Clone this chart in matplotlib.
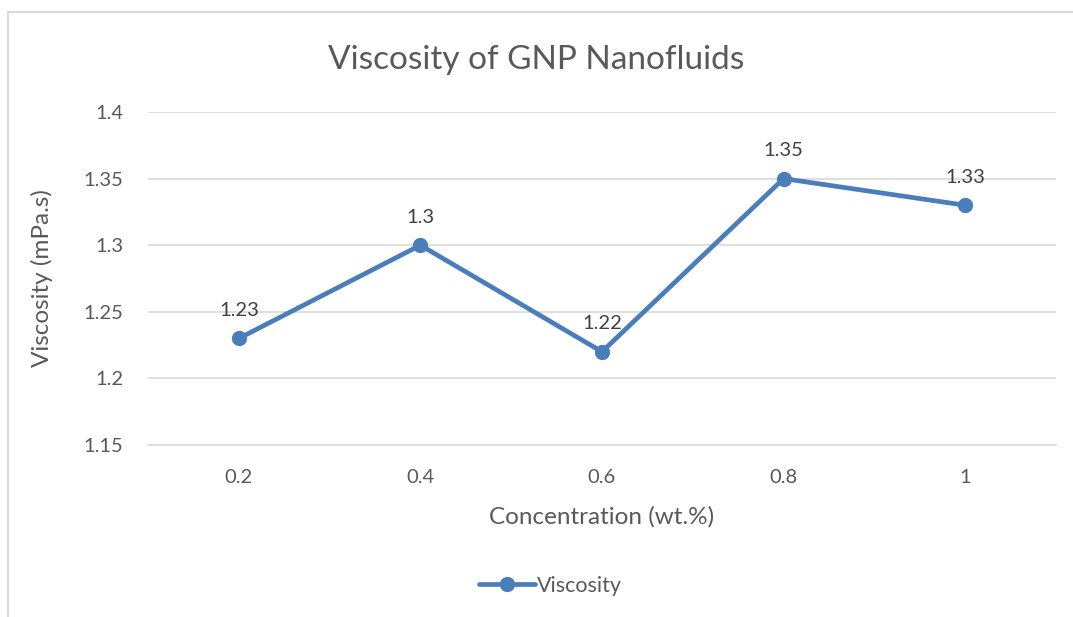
import matplotlib
matplotlib.use('Agg')
import matplotlib.pyplot as plt
from matplotlib.patches import Rectangle

# data
concentrations = ['0.2', '0.4', '0.6', '0.8', '1']
viscosity = [1.23, 1.30, 1.22, 1.35, 1.33]
value_labels = ['1.23', '1.3', '1.22', '1.35', '1.33']

plt.rcParams['font.family'] = ['Lato', 'DejaVu Sans']
txt = '#595959'
blue = '#4a7ebb'

fig = plt.figure(figsize=(10.73, 6.17), dpi=100)
# chart border (only left/top visible in the original crop)
fig.patches.append(Rectangle((8 / 1073, -0.1), 1.2, 1 - 12 / 617 + 0.1,
                             transform=fig.transFigure, fill=False,
                             edgecolor='#d9d9d9', linewidth=1.5))

ax = fig.add_axes([148 / 1073, 1 - 445 / 617, 908 / 1073, 333 / 617])
x = list(range(len(concentrations)))
ax.plot(x, viscosity, color=blue, linewidth=3.4, marker='o', markersize=10,
        label='Viscosity', solid_capstyle='round')
for xi, v, s in zip(x, viscosity, value_labels):
    ax.annotate(s, (xi, v), xytext=(0, 14), textcoords='offset points',
                ha='center', va='bottom', fontsize=14.5, color='#404040')

ax.set_xlim(-0.5, len(concentrations) - 0.5)
ax.set_ylim(1.15, 1.4)
ax.set_yticks([1.15, 1.2, 1.25, 1.3, 1.35, 1.4])
ax.set_yticklabels(['1.15', '1.2', '1.25', '1.3', '1.35', '1.4'])
ax.set_xticks(x)
ax.set_xticklabels(concentrations)
ax.tick_params(length=0, labelsize=14.5, labelcolor=txt, pad=17)
ax.tick_params(axis='y', pad=18)
ax.grid(axis='y', color='#d9d9d9', linewidth=1.2)
ax.set_axisbelow(True)
for sp in ['top', 'right', 'left']:
    ax.spines[sp].set_visible(False)
ax.spines['bottom'].set_color('#d9d9d9')
ax.spines['bottom'].set_linewidth(1.2)

ax.set_xlabel('Concentration (wt.%)', fontsize=17.5, color=txt, labelpad=15)
ax.set_ylabel('Viscosity (mPa.s)', fontsize=17.5, color=txt, labelpad=22)
fig.text(0.5, 1 - 60 / 617, 'Viscosity of GNP Nanofluids', ha='center',
         va='center', fontsize=24, color=txt)

fig.legend(loc='center', bbox_to_anchor=(0.5 + 14 / 1073, 1 - 586 / 617),
           frameon=False, fontsize=15.5, labelcolor=txt, handlelength=2.6,
           handletextpad=0.1)

fig.savefig('out.png', dpi=100)
